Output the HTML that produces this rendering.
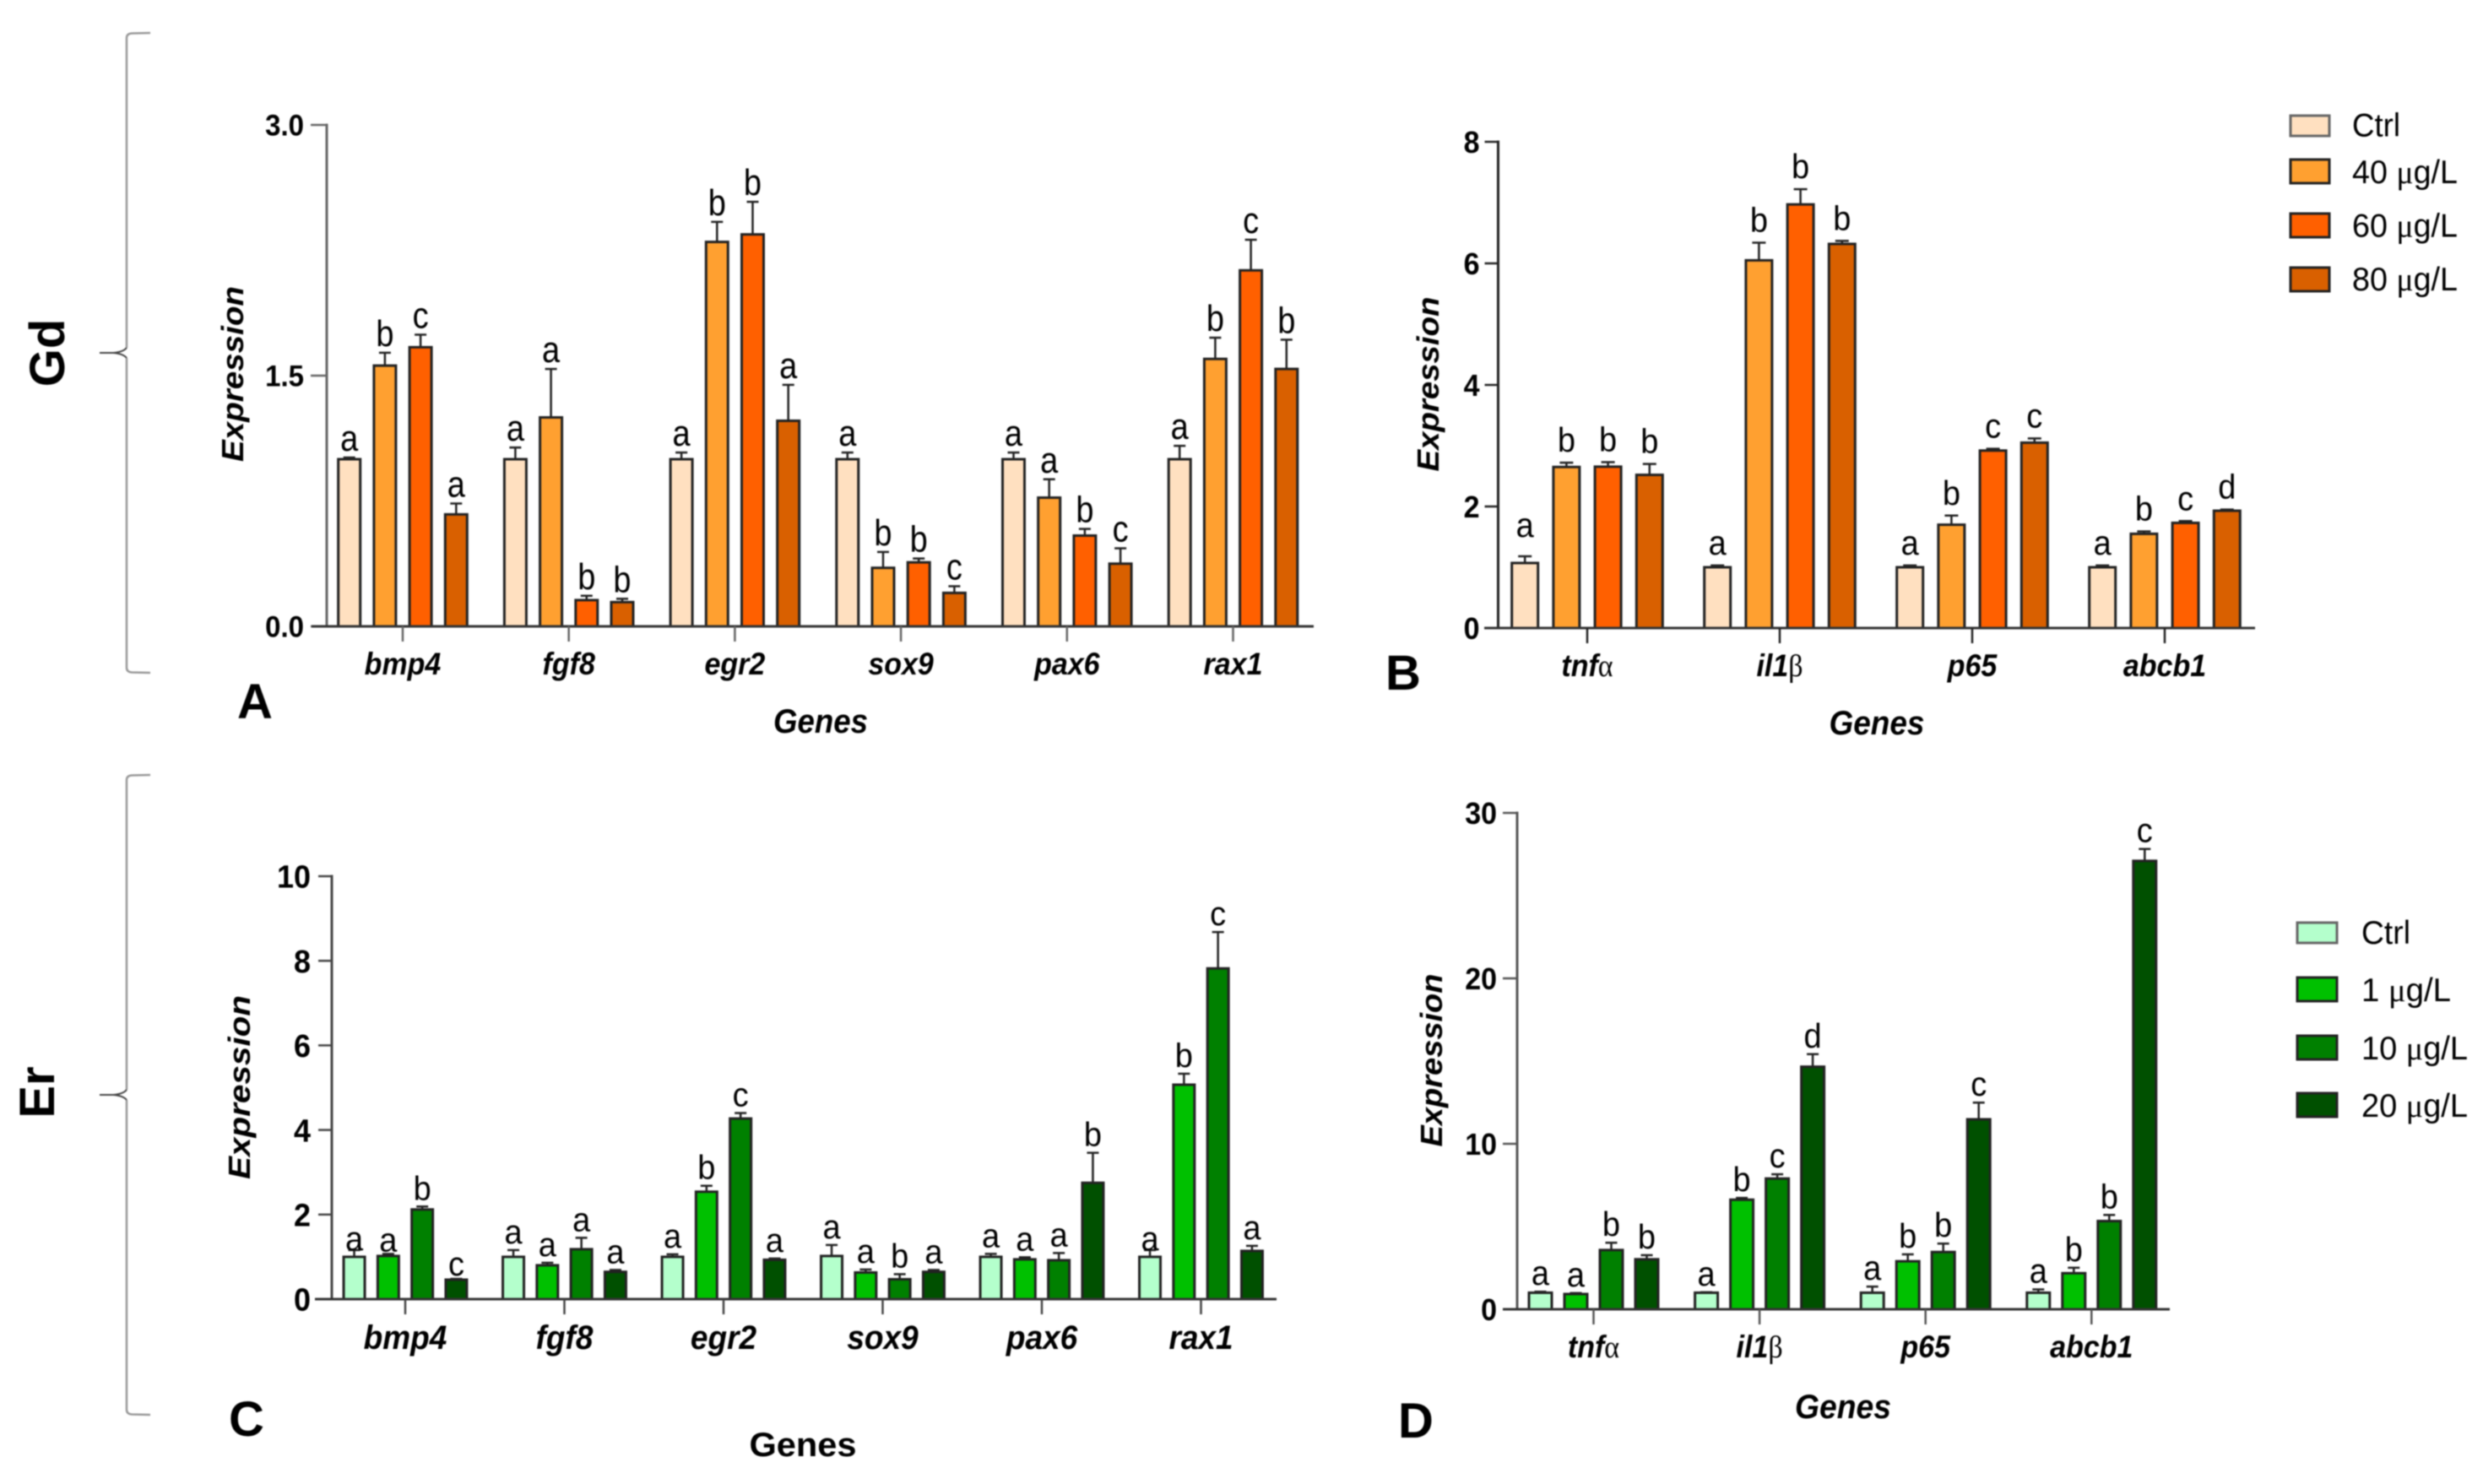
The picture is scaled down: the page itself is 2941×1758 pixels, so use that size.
<!DOCTYPE html>
<html lang="en">
<head>
<meta charset="utf-8">
<title>Gene expression under Gd and Er exposure</title>
<style>
  html, body { margin: 0; padding: 0; background: #fff; }
  #figure { display: block; width: 2941px; height: 1758px; filter: blur(0.9px); }
  text { font-family: "Liberation Sans", Arial, sans-serif; fill: #000; }
  .axis-title { font-size: 36px; font-weight: bold; font-style: italic; }
  .panel-letter { font-size: 58px; font-weight: bold; }
  .group-label { font-size: 58px; font-weight: bold; }
  .legend-text { font-size: 36px; }
  .legend-swatch { stroke: #222; stroke-width: 3; }
  .bracket { fill: none; stroke: #999; stroke-width: 2.5; }
  .bracket-tip { fill: none; stroke: #444; stroke-width: 2; }
  .sym { font-family: "Liberation Serif", serif; font-weight: normal; font-style: normal; }
</style>
</head>
<body>
<svg id="figure" xmlns="http://www.w3.org/2000/svg" width="2941" height="1758" viewBox="0 0 2941 1758">
  <rect x="0" y="0" width="2941" height="1758" fill="#ffffff"/>

  <g>
    <path class="bracket" d="M178,39 L156,39.5 Q150,40 150,45 L150,412 M150,424 L150,791 Q150,796 156,796.5 L178,797"/>
    <path class="bracket-tip" d="M150,412 Q146,417 134,418 L118,418 M134,418 Q146,419 150,424"/>
  </g>
  <g>
    <path class="bracket" d="M178,918 L156,918.5 Q150,919 150,924 L150,1291 M150,1303 L150,1670 Q150,1675 156,1675.5 L178,1676"/>
    <path class="bracket-tip" d="M150,1291 Q146,1296 134,1297 L118,1297 M134,1297 Q146,1298 150,1303"/>
  </g>
  <text class="group-label" transform="translate(76,418) rotate(-90)" text-anchor="middle">Gd</text>
  <text class="group-label" transform="translate(64,1294) rotate(-90)" text-anchor="middle">Er</text>

  <text class="panel-letter" x="281" y="851">A</text>
  <text class="panel-letter" x="1641" y="817">B</text>
  <text class="panel-letter" x="271" y="1701">C</text>
  <text class="panel-letter" x="1656" y="1703">D</text>

  <text class="axis-title" transform="translate(288,443) rotate(-90)" text-anchor="middle" textLength="208" lengthAdjust="spacingAndGlyphs">Expression</text>
  <text class="axis-title" transform="translate(1704,455) rotate(-90)" text-anchor="middle" textLength="207" lengthAdjust="spacingAndGlyphs">Expression</text>
  <text class="axis-title" transform="translate(296,1288) rotate(-90)" text-anchor="middle" textLength="218" lengthAdjust="spacingAndGlyphs">Expression</text>
  <text class="axis-title" transform="translate(1708,1256) rotate(-90)" text-anchor="middle" textLength="205" lengthAdjust="spacingAndGlyphs">Expression</text>

  <text class="axis-title" transform="translate(972,868) scale(1,1.1)" text-anchor="middle" textLength="112" lengthAdjust="spacingAndGlyphs">Genes</text>
  <text class="axis-title" transform="translate(2223,870) scale(1,1.1)" text-anchor="middle" textLength="113" lengthAdjust="spacingAndGlyphs">Genes</text>
  <text class="axis-title" x="951" y="1725" text-anchor="middle" textLength="127" lengthAdjust="spacingAndGlyphs" style="font-style:normal;font-size:40px">Genes</text>
  <text class="axis-title" transform="translate(2183,1680) scale(1,1.1)" text-anchor="middle" textLength="114" lengthAdjust="spacingAndGlyphs">Genes</text>

  <g>
    <g>
      <rect class="legend-swatch" x="2713" y="137" width="46" height="24" fill="#FFE0C0" style="stroke:#666"/>
      <text class="legend-text" transform="translate(2786,161.5) scale(1,1.08)" textLength="57" lengthAdjust="spacingAndGlyphs">Ctrl</text>
    </g>
    <g>
      <rect class="legend-swatch" x="2713" y="189" width="46" height="28" fill="#FFA030"/>
      <text class="legend-text" transform="translate(2786,217) scale(1,1.08)" textLength="125" lengthAdjust="spacingAndGlyphs">40 <tspan class="sym">μ</tspan>g/L</text>
    </g>
    <g>
      <rect class="legend-swatch" x="2713" y="253" width="46" height="28" fill="#FF6000"/>
      <text class="legend-text" transform="translate(2786,280.5) scale(1,1.08)" textLength="125" lengthAdjust="spacingAndGlyphs">60 <tspan class="sym">μ</tspan>g/L</text>
    </g>
    <g>
      <rect class="legend-swatch" x="2713" y="317" width="46" height="28" fill="#D96000"/>
      <text class="legend-text" transform="translate(2786,344) scale(1,1.08)" textLength="125" lengthAdjust="spacingAndGlyphs">80 <tspan class="sym">μ</tspan>g/L</text>
    </g>
  </g>

  <g>
    <g>
      <rect class="legend-swatch" x="2721" y="1093" width="47" height="24" fill="#B4FFCC" style="stroke:#666"/>
      <text class="legend-text" transform="translate(2797,1118) scale(1,1.08)" textLength="58" lengthAdjust="spacingAndGlyphs">Ctrl</text>
    </g>
    <g>
      <rect class="legend-swatch" x="2721" y="1158" width="47" height="28" fill="#00C000"/>
      <text class="legend-text" transform="translate(2797,1186) scale(1,1.08)" textLength="106" lengthAdjust="spacingAndGlyphs">1 <tspan class="sym">μ</tspan>g/L</text>
    </g>
    <g>
      <rect class="legend-swatch" x="2721" y="1227" width="47" height="28" fill="#008000"/>
      <text class="legend-text" transform="translate(2797,1255) scale(1,1.08)" textLength="126" lengthAdjust="spacingAndGlyphs">10 <tspan class="sym">μ</tspan>g/L</text>
    </g>
    <g>
      <rect class="legend-swatch" x="2721" y="1295" width="47" height="28" fill="#005000"/>
      <text class="legend-text" transform="translate(2797,1323) scale(1,1.08)" textLength="126" lengthAdjust="spacingAndGlyphs">20 <tspan class="sym">μ</tspan>g/L</text>
    </g>
  </g>

  <g id="charts"></g>
</svg>

<script>
/* ---------- shared categories ---------- */
const developmentGenes = ['bmp4', 'fgf8', 'egr2', 'sox9', 'pax6', 'rax1'];
const inflammationGenes = ['tnfα', 'il1β', 'p65', 'abcb1'];

/* ---------- panel A ---------- */
const aTicks = ['0.0', '1.5', '3.0'];
const aCtrl = [1.0, 1.0, 1.0, 1.0, 1.0, 1.0];
const aDose40 = [1.56, 1.25, 2.30, 0.35, 0.77, 1.60];
const aDose60 = [1.67, 0.157, 2.345, 0.383, 0.543, 2.13];
const aDose80 = [0.67, 0.145, 1.23, 0.20, 0.375, 1.54];
const aCtrlUpper = [1.01, 1.07, 1.04, 1.04, 1.04, 1.08];
const aDose40Upper = [1.637, 1.54, 2.42, 0.445, 0.88, 1.727];
const aDose60Upper = [1.745, 0.183, 2.54, 0.406, 0.583, 2.313];
const aDose80Upper = [0.735, 0.165, 1.445, 0.24, 0.467, 1.715];
const aCtrlLetters = ['a', 'a', 'a', 'a', 'a', 'a'];
const aDose40Letters = ['b', 'a', 'b', 'b', 'a', 'b'];
const aDose60Letters = ['c', 'b', 'b', 'b', 'b', 'c'];
const aDose80Letters = ['a', 'b', 'a', 'c', 'c', 'b'];

/* ---------- panel B ---------- */
const bTicks = ['0', '2', '4', '6', '8'];
const bCtrl = [1.07, 1.0, 1.0, 1.0];
const bDose40 = [2.65, 6.05, 1.70, 1.55];
const bDose60 = [2.655, 6.97, 2.92, 1.73];
const bDose80 = [2.52, 6.32, 3.05, 1.93];
const bCtrlUpper = [1.18, 1.03, 1.03, 1.03];
const bDose40Upper = [2.72, 6.34, 1.85, 1.59];
const bDose60Upper = [2.73, 7.22, 2.95, 1.76];
const bDose80Upper = [2.70, 6.37, 3.12, 1.95];
const bCtrlLetters = ['a', 'a', 'a', 'a'];
const bDose40Letters = ['b', 'b', 'b', 'b'];
const bDose60Letters = ['b', 'b', 'c', 'c'];
const bDose80Letters = ['b', 'b', 'c', 'd'];

/* ---------- panel C ---------- */
const cTicks = ['0', '2', '4', '6', '8', '10'];
const cCtrl = [1.0, 1.0, 1.0, 1.02, 1.0, 1.0];
const cDose1 = [1.02, 0.80, 2.54, 0.63, 0.94, 5.07];
const cDose10 = [2.12, 1.18, 4.27, 0.47, 0.92, 7.82];
const cDose20 = [0.46, 0.645, 0.93, 0.645, 2.75, 1.14];
const cCtrlUpper = [1.16, 1.16, 1.06, 1.28, 1.07, 1.16];
const cDose1Upper = [1.07, 0.86, 2.68, 0.70, 0.99, 5.33];
const cDose10Upper = [2.19, 1.45, 4.40, 0.59, 1.09, 8.68];
const cDose20Upper = [0.48, 0.69, 0.96, 0.69, 3.46, 1.26];
const cCtrlLetters = ['a', 'a', 'a', 'a', 'a', 'a'];
const cDose1Letters = ['a', 'a', 'b', 'a', 'a', 'b'];
const cDose10Letters = ['b', 'a', 'c', 'b', 'a', 'c'];
const cDose20Letters = ['c', 'a', 'a', 'a', 'b', 'a'];

/* ---------- panel D ---------- */
const dTicks = ['0', '10', '20', '30'];
const dCtrl = [1.0, 1.0, 1.0, 1.0];
const dDose1 = [0.92, 6.62, 2.90, 2.18];
const dDose10 = [3.58, 7.90, 3.46, 5.33];
const dDose20 = [3.02, 14.66, 11.48, 27.1];
const dCtrlUpper = [1.06, 1.03, 1.37, 1.20];
const dDose1Upper = [0.98, 6.73, 3.32, 2.51];
const dDose10Upper = [4.02, 8.16, 3.97, 5.70];
const dDose20Upper = [3.27, 15.42, 12.49, 27.82];
const dCtrlLetters = ['a', 'a', 'a', 'a'];
const dDose1Letters = ['a', 'b', 'b', 'b'];
const dDose10Letters = ['b', 'c', 'b', 'b'];
const dDose20Letters = ['b', 'd', 'c', 'c'];

/* ---------- series colours ---------- */
const gdColors = ['#FFE0C0', '#FFA030', '#FF6000', '#D96000'];
const erColors = ['#B4FFCC', '#00C000', '#008000', '#005000'];

const SVG_NS = 'http://www.w3.org/2000/svg';
const chartsRoot = document.getElementById('charts');

function mk(parent, tag, attrs) {
  const el = document.createElementNS(SVG_NS, tag);
  for (const k in attrs) el.setAttribute(k, attrs[k]);
  parent.appendChild(el);
  return el;
}

/* The figure's text is slightly stretched vertically from resampling. */
function placed(x, y, stretch) {
  return 'translate(' + x + ',' + y + ') scale(1,' + stretch + ')';
}

/* Greek characters are set upright in a serif face, as in the figure. */
function setCategoryText(el, label) {
  const parts = label.split(/([αβ])/);
  parts.forEach(function (part) {
    if (!part) return;
    const span = document.createElementNS(SVG_NS, 'tspan');
    span.textContent = part;
    if (part === 'α' || part === 'β') span.setAttribute('class', 'sym');
    el.appendChild(span);
  });
}

function drawPanel(p) {
  const g = mk(chartsRoot, 'g', {});
  
  

  const maxTick = parseFloat(p.ticks[p.ticks.length - 1]);
  const yScale = function (v) { return p.base - (v / maxTick) * (p.base - p.top); };
  const xCenter = function (i) { return p.x0 + i * p.step; };
  const barCenter = function (i, s) { return xCenter(i) + (s - 1.5) * p.barStep; };

  /* bars, error bars, significance letters */
  p.series.forEach(function (values, s) {
    values.forEach(function (v, i) {
      const cx = barCenter(i, s);
      const yTop = yScale(v);
      const yCap = yScale(p.uppers[s][i]);

      const whisker = mk(g, 'line', { x1: cx, x2: cx, y1: yTop, y2: yCap, stroke: '#222', 'stroke-width': 2.5 });
      
      

      const cap = mk(g, 'line', { x1: cx - p.capHalf, x2: cx + p.capHalf, y1: yCap, y2: yCap, stroke: '#222', 'stroke-width': 2.5 });
      
      

      const bar = mk(g, 'rect', {
        x: cx - p.barWidth / 2, y: yTop, width: p.barWidth, height: Math.max(0, p.base - yTop),
        fill: p.colors[s], stroke: '#222', 'stroke-width': 3
      });
      
      

      const lift = p.letterLift[s + '-' + i] || 0;
      const letter = mk(g, 'text', {
        transform: placed(cx, yCap - p.letterGap - lift, p.letterStretch),
        'text-anchor': 'middle', 'font-size': p.letterSize
      });
      letter.textContent = p.letters[s][i];
      
      
    });
  });

  /* y axis */
  const yAxis = mk(g, 'line', { x1: p.axisX, x2: p.axisX, y1: p.top - 1.5, y2: p.base, stroke: p.axisColor, 'stroke-width': 3 });
  
  

  p.ticks.forEach(function (t) {
    const ty = yScale(parseFloat(t));
    const tick = mk(g, 'line', { x1: p.axisX - p.yTickLen, x2: p.axisX, y1: ty, y2: ty, stroke: p.axisColor, 'stroke-width': 2.5 });
    
    

    const label = mk(g, 'text', {
      transform: placed(p.axisX - p.yTickLen - p.tickPad, ty + p.tickSize * 0.38, 1.06),
      'text-anchor': 'end', 'font-size': p.tickSize, 'font-weight': 'bold'
    });
    label.textContent = t;
    
    
  });

  /* x axis */
  const xAxis = mk(g, 'line', { x1: p.axisStart, x2: p.axisEnd, y1: p.base, y2: p.base, stroke: '#333', 'stroke-width': 3 });
  
  

  p.categories.forEach(function (c, i) {
    const cx = xCenter(i);
    const tick = mk(g, 'line', { x1: cx, x2: cx, y1: p.base, y2: p.base + 18, stroke: p.axisColor, 'stroke-width': 2.5 });
    
    

    const label = mk(g, 'text', {
      transform: placed(cx, p.catY, 1.08), 'text-anchor': 'middle', 'font-size': p.catSize,
      'font-weight': 'bold', 'font-style': 'italic'
    });
    setCategoryText(label, c);
    
    
  });
}

drawPanel({
  id: 'a', categories: developmentGenes, ticks: aTicks, colors: gdColors,
  series: [aCtrl, aDose40, aDose60, aDose80],
  uppers: [aCtrlUpper, aDose40Upper, aDose60Upper, aDose80Upper],
  letters: [aCtrlLetters, aDose40Letters, aDose60Letters, aDose80Letters],
  axisX: 387, axisStart: 369, axisEnd: 1556, top: 148, base: 742, axisColor: '#666',
  x0: 477, step: 196.7, barStep: 42.2, barWidth: 26, capHalf: 7,
  letterGap: 8, letterLift: {}, letterSize: 38, letterStretch: 1.15,
  tickSize: 33, tickPad: 8, yTickLen: 19, catY: 799, catSize: 34
});

drawPanel({
  id: 'b', categories: inflammationGenes, ticks: bTicks, colors: gdColors,
  series: [bCtrl, bDose40, bDose60, bDose80],
  uppers: [bCtrlUpper, bDose40Upper, bDose60Upper, bDose80Upper],
  letters: [bCtrlLetters, bDose40Letters, bDose60Letters, bDose80Letters],
  axisX: 1774.5, axisStart: 1758, axisEnd: 2671, top: 168, base: 744, axisColor: '#222',
  x0: 1880, step: 228, barStep: 49.2, barWidth: 31, capHalf: 8,
  letterGap: 13, letterLift: { '0-0': 10 }, letterSize: 38, letterStretch: 1.08,
  tickSize: 34, tickPad: 6, yTickLen: 16, catY: 801, catSize: 34
});

drawPanel({
  id: 'c', categories: developmentGenes, ticks: cTicks, colors: erColors,
  series: [cCtrl, cDose1, cDose10, cDose20],
  uppers: [cCtrlUpper, cDose1Upper, cDose10Upper, cDose20Upper],
  letters: [cCtrlLetters, cDose1Letters, cDose10Letters, cDose20Letters],
  axisX: 393, axisStart: 373, axisEnd: 1512, top: 1038, base: 1539, axisColor: '#444',
  x0: 480, step: 188.5, barStep: 40.3, barWidth: 25, capHalf: 7,
  letterGap: 8, letterLift: { '0-0': -8, '1-0': -5, '3-0': -4, '0-5': -8 }, letterSize: 38, letterStretch: 1.05,
  tickSize: 36, tickPad: 9, yTickLen: 16, catY: 1598, catSize: 37
});

drawPanel({
  id: 'd', categories: inflammationGenes, ticks: dTicks, colors: erColors,
  series: [dCtrl, dDose1, dDose10, dDose20],
  uppers: [dCtrlUpper, dDose1Upper, dDose10Upper, dDose20Upper],
  letters: [dCtrlLetters, dDose1Letters, dDose10Letters, dDose20Letters],
  axisX: 1797, axisStart: 1780, axisEnd: 2570, top: 963, base: 1551, axisColor: '#555',
  x0: 1887.5, step: 196.6, barStep: 42, barWidth: 27, capHalf: 7,
  letterGap: 8, letterLift: {}, letterSize: 38, letterStretch: 1.08,
  tickSize: 34, tickPad: 7, yTickLen: 17, catY: 1608, catSize: 34
});
</script>
</body>
</html>
